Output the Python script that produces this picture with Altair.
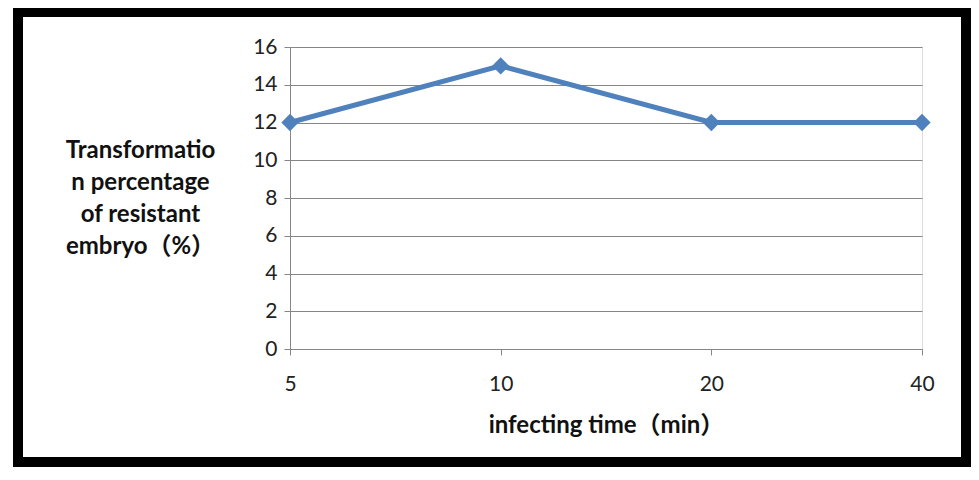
import altair as alt
import pandas as pd

times = ["5", "10", "20", "40"]
rates = [12, 15, 12, 12]
y_ticks = [0, 2, 4, 6, 8, 10, 12, 14, 16]
y_title = ["Transformatio", "n percentage", "of resistant", "embryo（%）"]
x_title = "infecting time（min）"

df = pd.DataFrame({"time": times, "rate": rates})

FONT = "Lato, Noto Sans CJK SC, sans-serif"
BLUE = "#4F81BD"
GRID = "#868686"

W, H = 632, 302
SVG_W, SVG_H = 963, 459
PAD_L, PAD_T = 282, 39

x_enc = alt.X(
    "time:O",
    sort=times,
    scale=alt.Scale(type="point", padding=0),
    axis=alt.Axis(
        title=x_title,
        labelAngle=0,
        labelFontSize=21,
        labelColor="#222222",
        labelPadding=18,
        labelOverlap=False,
        tickSize=6,
        tickColor=GRID,
        domainColor=GRID,
        grid=False,
        titleFontSize=24,
        titleFontWeight="bold",
        titleColor="#111111",
        titleBaseline="alphabetic",
        titleY=83,
    ),
)
y_enc = alt.Y(
    "rate:Q",
    scale=alt.Scale(domain=[0, 16], nice=False),
    axis=alt.Axis(
        values=y_ticks,
        labelOverlap=False,
        title=y_title,
        titleAngle=0,
        titleAlign="center",
        titleBaseline="alphabetic",
        titleX=-150,
        titleY=110,
        titleLineHeight=32,
        titleFontSize=24,
        titleFontWeight="bold",
        titleColor="#111111",
        labelFontSize=21,
        labelColor="#222222",
        labelPadding=7,
        tickSize=6,
        tickColor=GRID,
        domainColor=GRID,
        gridColor=GRID,
        gridWidth=1,
    ),
)

line = alt.Chart(df).mark_line(color=BLUE, strokeWidth=5).encode(x=x_enc, y=y_enc)
pts = alt.Chart(df).mark_point(
    shape="diamond", filled=True, color=BLUE, size=300, opacity=1
).encode(x=x_enc, y=y_enc)

frame = alt.Chart(alt.Data(values=[{"a": 1}])).mark_rect(
    fill="white", fillOpacity=0, stroke="black", strokeWidth=10
).encode(
    x=alt.value(18 - 290),
    x2=alt.value(SVG_W + 8 - 5 - 290),
    y=alt.value(12 - 47),
    y2=alt.value(SVG_H + 8 - 5 - 47),
)

chart = (
    alt.layer(line, pts, frame)
    .properties(
        width=W,
        height=H,
        autosize=alt.AutoSizeParams(type="none"),
        padding={"left": PAD_L, "top": PAD_T, "right": SVG_W - PAD_L - W, "bottom": SVG_H - PAD_T - H},
        background="white",
    )
    .configure_view(stroke=None)
    .configure(font=FONT)
)

chart.save("out.html", embed_options={"renderer": "svg", "actions": False})
